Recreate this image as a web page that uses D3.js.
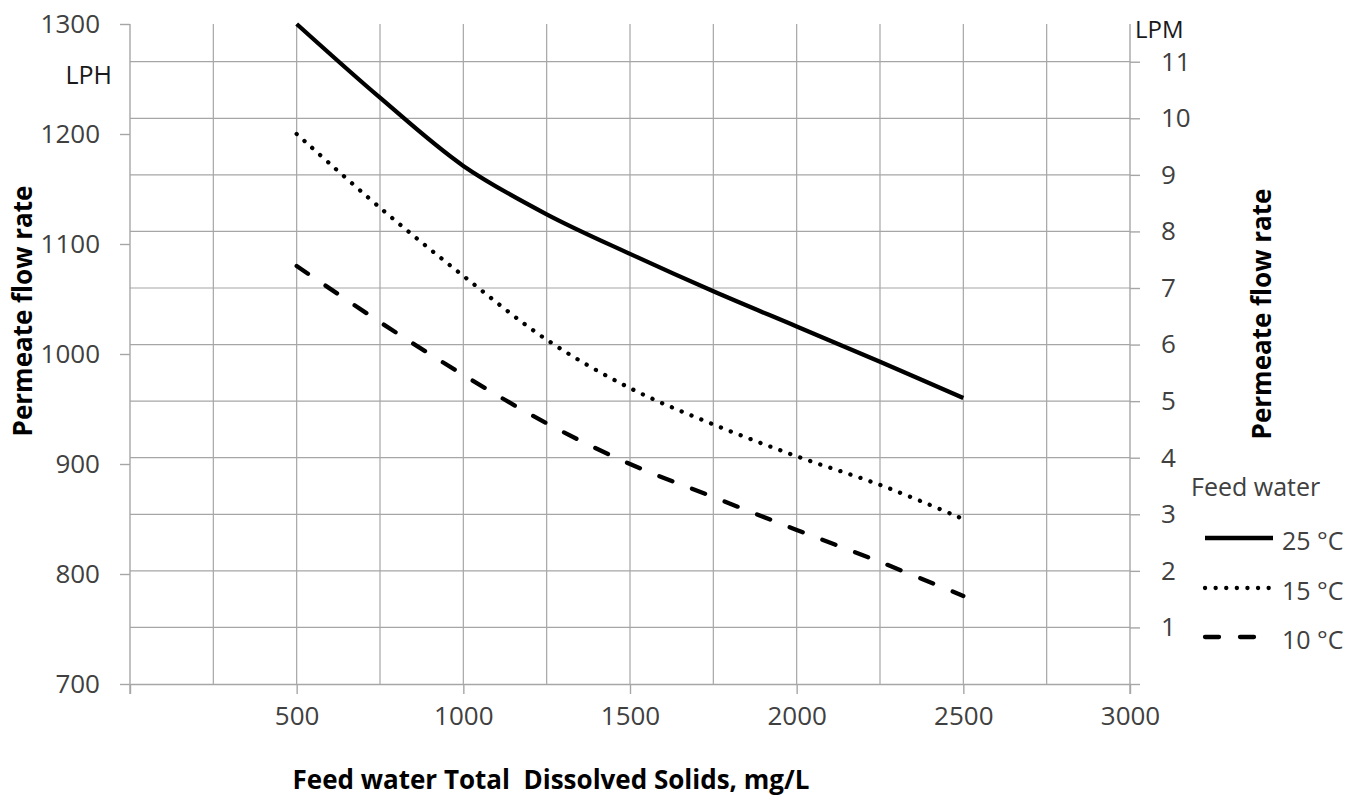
<!DOCTYPE html>
<html>
<head>
<meta charset="utf-8">
<script src="https://cdn.jsdelivr.net/npm/d3@7"></script>
<style>
  html, body { margin: 0; padding: 0; background: #fff; }
  svg { display: block; }
  text { font-family: "Open Sans", "Noto Sans", sans-serif; }
</style>
</head>
<body>
<svg id="chart" width="1367" height="798"></svg>
<script>
// ---- data ----
const tds = [500, 750, 1000, 1250, 1500, 1750, 2000, 2250, 2500];
const flow25 = [1300, 1233, 1171, 1127, 1091, 1057, 1025, 993, 960];
const flow15 = [1200, 1133, 1071, 1013, 969, 936, 907, 881, 850];
const flow10 = [1080, 1029, 981, 937, 900, 870, 840, 811, 780];
const seriesNames = ["25 °C", "15 °C", "10 °C"];
const xTicks = [0, 500, 1000, 1500, 2000, 2500, 3000];
const xGrid = [250, 500, 750, 1000, 1250, 1500, 1750, 2000, 2250, 2500, 2750];
const lphTicks = [700, 800, 900, 1000, 1100, 1200, 1300];
const lpmTicks = [0, 1, 2, 3, 4, 5, 6, 7, 8, 9, 10, 11];

// ---- layout ----
const svg = d3.select("#chart");
const mLeft = 130, mRight = 1130, mTop = 24, mBottom = 684;
const grey = "#a6a6a6";
const labelColor = "#404040";

const x = d3.scaleLinear().domain([0, 3000]).range([mLeft, mRight]);
const yL = d3.scaleLinear().domain([700, 1300]).range([mBottom, mTop]);
const yR = d3.scaleLinear().domain([0, 700 / 60]).range([mBottom, mTop]);

// gridlines
const grid = svg.append("g");
grid.selectAll("line.v").data(xGrid).join("line")
  .attr("x1", d => x(d)).attr("x2", d => x(d))
  .attr("y1", mTop).attr("y2", mBottom)
  .attr("stroke", grey).attr("stroke-width", 1.2);
grid.selectAll("line.h").data(lpmTicks.filter(d => d > 0)).join("line")
  .attr("x1", mLeft).attr("x2", mRight)
  .attr("y1", d => yR(d)).attr("y2", d => yR(d))
  .attr("stroke", grey).attr("stroke-width", 1.2);

// axes
function styleAxis(g) {
  g.selectAll("path").attr("stroke", grey).attr("stroke-width", 1.4);
  g.selectAll("line").attr("stroke", grey).attr("stroke-width", 1.4);
  g.selectAll("text").attr("fill", labelColor).style("font-size", "26px")
    .style("font-family", '"Open Sans", "Noto Sans", sans-serif');
}

const xAxis = svg.append("g").attr("transform", `translate(0,${mBottom})`)
  .call(d3.axisBottom(x).tickValues(xTicks).tickSize(10).tickSizeOuter(0)
    .tickFormat(d => d === 0 ? "" : d).tickPadding(13));
styleAxis(xAxis);

const lAxis = svg.append("g").attr("transform", `translate(${mLeft},0)`)
  .call(d3.axisLeft(yL).tickValues(lphTicks).tickSize(10).tickSizeOuter(0)
    .tickFormat(d3.format("d")).tickPadding(20));
styleAxis(lAxis);
lAxis.select("path").attr("d", `M0,${mTop}V${mBottom + 10}`);

const rAxis = svg.append("g").attr("transform", `translate(${mRight},0)`)
  .call(d3.axisRight(yR).tickValues(lpmTicks).tickSize(10).tickSizeOuter(0)
    .tickFormat(d => d === 0 ? "" : d).tickPadding(21));
styleAxis(rAxis);
rAxis.select("path").attr("d", `M0,${mTop}V${mBottom + 10}`);

// unit labels
svg.append("text").attr("x", 112).attr("y", 74).attr("text-anchor", "end")
  .attr("dominant-baseline", "central").attr("fill", "#1a1a1a")
  .style("font-size", "25px").text("LPH");
svg.append("text").attr("x", 1135).attr("y", 28).attr("text-anchor", "start")
  .attr("dominant-baseline", "central").attr("fill", "#1a1a1a")
  .style("font-size", "24px").text("LPM");

// axis titles
svg.append("text").attr("transform", "translate(32,311) rotate(-90)")
  .attr("text-anchor", "middle").attr("font-weight", "bold").attr("fill", "#000")
  .style("font-size", "26px").text("Permeate flow rate");
svg.append("text").attr("transform", "translate(1271,314) rotate(-90)")
  .attr("text-anchor", "middle").attr("font-weight", "bold").attr("fill", "#000")
  .style("font-size", "26px").text("Permeate flow rate");
svg.append("text").attr("x", 551).attr("y", 789)
  .attr("text-anchor", "middle").attr("font-weight", "bold").attr("fill", "#000")
  .style("font-size", "26px").style("white-space", "pre")
  .text("Feed water Total  Dissolved Solids, mg/L");

// series
const styles = [
  { dash: null, cap: "butt" },
  { dash: "0.1 10.5", cap: "round" },
  { dash: "14 21", cap: "round" }
];
const allSeries = [flow25, flow15, flow10];
const line = d3.line().x(d => x(d[0])).y(d => yL(d[1])).curve(d3.curveCatmullRom.alpha(0.5));
allSeries.forEach((vals, i) => {
  svg.append("path")
    .attr("d", line(tds.map((t, j) => [t, vals[j]])))
    .attr("fill", "none").attr("stroke", "#000").attr("stroke-width", 4.3)
    .attr("stroke-linecap", styles[i].cap)
    .attr("stroke-dasharray", styles[i].dash);
});

// legend
svg.append("text").attr("x", 1191).attr("y", 486).attr("dominant-baseline", "central")
  .attr("fill", labelColor).style("font-size", "25px").text("Feed water");
const legY = [538, 588, 637];
const legEnd = [1273, 1271, 1258];
seriesNames.forEach((name, i) => {
  svg.append("line").attr("x1", 1205).attr("x2", legEnd[i])
    .attr("y1", legY[i]).attr("y2", legY[i])
    .attr("stroke", "#000").attr("stroke-width", 4.3)
    .attr("stroke-linecap", styles[i].cap)
    .attr("stroke-dasharray", styles[i].dash);
  svg.append("text").attr("x", 1282).attr("y", legY[i] + 2).attr("dominant-baseline", "central")
    .attr("fill", labelColor).style("font-size", "25px").text(name);
});
</script>
</body>
</html>
